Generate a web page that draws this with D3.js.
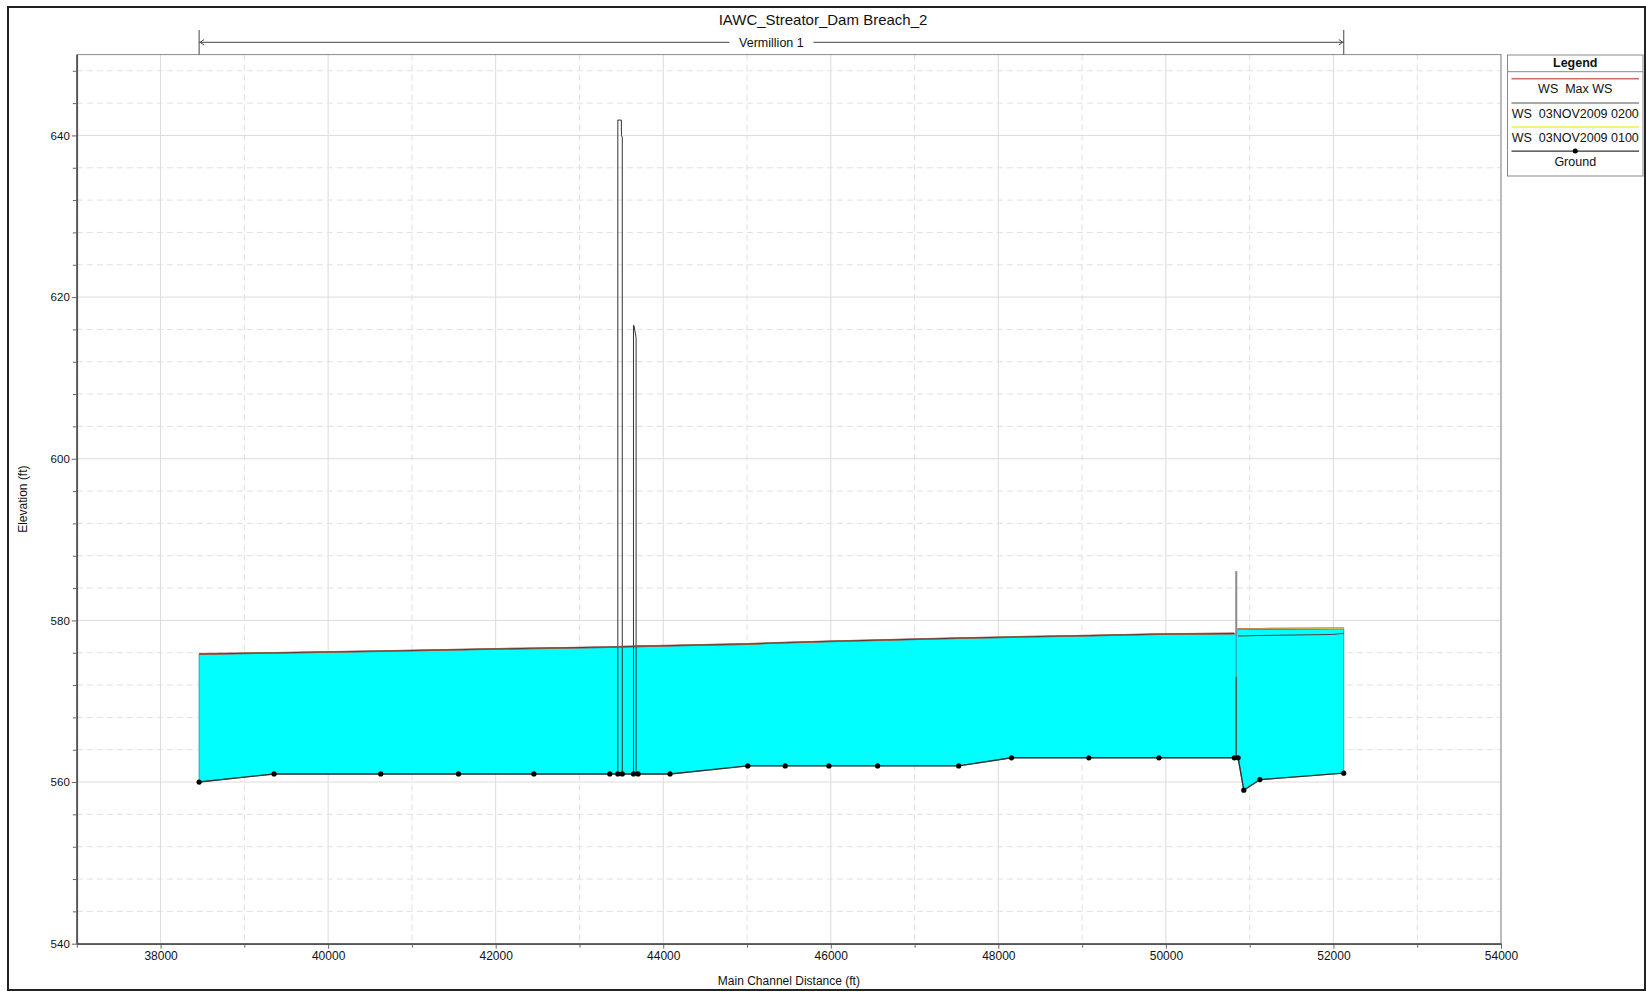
<!DOCTYPE html>
<html><head><meta charset="utf-8">
<script src="https://cdn.jsdelivr.net/npm/d3@7"></script>
<style>
body{margin:0;background:#fff;}
svg{display:block;}
text{font-family:"Liberation Sans",Arial,Helvetica,sans-serif;fill:#111;}
</style>
</head><body>
<svg id="chart" width="1646" height="992"></svg>
<script>
// ---------- data ----------
const chartTitle = "IAWC_Streator_Dam Breach_2";
const reachName = "Vermillion 1";
const xLabel = "Main Channel Distance (ft)";
const yLabel = "Elevation (ft)";
const xDomain = [37000, 54000];
const yDomain = [540, 650];
const xMajorTicks = [38000, 40000, 42000, 44000, 46000, 48000, 50000, 52000, 54000];
const xMinorTicks = [37000, 39000, 41000, 43000, 45000, 47000, 49000, 51000, 53000];
const yMajorTicks = [540, 560, 580, 600, 620, 640];
const yMinorTicks = [544, 548, 552, 556, 564, 568, 572, 576, 584, 588, 592, 596, 604, 608, 612, 616, 624, 628, 632, 636, 644, 648];

const groundStations = [38460, 39355, 40628, 41556, 42456, 43362, 43458, 43511, 43645, 43700, 44081, 45009, 45456, 45978, 46559, 47527, 48157, 49080, 49917, 50817, 50862, 50930, 51122, 52123];
const groundElev     = [560.0, 561.0, 561.0, 561.0, 561.0, 561.0, 561.0, 561.0, 561.0, 561.0, 561.0, 562.0, 562.0, 562.0, 562.0, 562.0, 563.0, 563.0, 563.0, 563.0, 563.0, 559.0, 560.3, 561.1];

const wsStations   = [38460, 39355, 40628, 41556, 42456, 43362, 43458, 43511, 43645, 43700, 44081, 45009, 45456, 45978, 46559, 47527, 48157, 49080, 49917, 50817, 50862, 50930, 51122, 52123];
const wsMax        = [575.84, 575.98, 576.20, 576.38, 576.55, 576.70, 576.72, 576.74, 576.78, 576.80, 576.88, 577.08, 577.25, 577.41, 577.55, 577.80, 577.94, 578.12, 578.30, 578.38, 578.95, 578.95, 578.96, 579.00];
const ws0100       = [575.84, 575.98, 576.20, 576.38, 576.55, 576.70, 576.72, 576.74, 576.78, 576.80, 576.88, 577.08, 577.25, 577.41, 577.55, 577.80, 577.94, 578.12, 578.30, 578.38, 578.95, 578.95, 578.96, 579.00];
const ws0200Stations = [38460, 39355, 40628, 41556, 42456, 43362, 43458, 43511, 43645, 43700, 44081, 45009, 45456, 45978, 46559, 47527, 48157, 49080, 49917, 50817, 50862, 50930, 51122, 51990, 52123];
const ws0200       = [575.84, 575.98, 576.20, 576.38, 576.55, 576.70, 576.72, 576.74, 576.78, 576.80, 576.88, 577.08, 577.25, 577.41, 577.55, 577.80, 577.94, 578.12, 578.30, 578.38, 578.07, 578.08, 578.13, 578.26, 578.40];

// bridges (deck outlines)
const bridge1Stations = [43458, 43458, 43500, 43501, 43511, 43511];
const bridge1Elev     = [561.0, 641.9, 641.9, 640.0, 639.8, 561.0];
const bridge2Stations = [43645, 43645, 43650, 43676, 43676];
const bridge2Elev     = [561.0, 616.5, 616.5, 615.0, 561.0];

// inline structure (dam)
const structureStation = 50840;
const structureUpper = [586.1, 578.2];
const structureLower = [573.0, 563.0];

const legendLabels = ["WS  Max WS", "WS  03NOV2009 0200", "WS  03NOV2009 0100", "Ground"];
const legendColors = ["#cc6a6a", "#8c8c8c", "#f0f040", "#333333"];

// ---------- drawing ----------
const svg = d3.select("#chart");
const L = 76.8, R = 1501, T = 54.6, B = 943.7;
const x = d3.scaleLinear().domain(xDomain).range([L, R]);
const y = d3.scaleLinear().domain(yDomain).range([B, T]);

// outer frame
svg.append("rect").attr("x", 8).attr("y", 7).attr("width", 1637).attr("height", 983)
  .attr("fill", "#fff").attr("stroke", "#222").attr("stroke-width", 2);

// grid
const grid = svg.append("g");
grid.selectAll(".vmaj").data(xMajorTicks).join("line")
  .attr("x1", d => x(d)).attr("x2", d => x(d)).attr("y1", T).attr("y2", B)
  .attr("stroke", "#dcdcdc").attr("stroke-width", 1);
grid.selectAll(".vmin").data(xMinorTicks).join("line")
  .attr("x1", d => x(d)).attr("x2", d => x(d)).attr("y1", T).attr("y2", B)
  .attr("stroke", "#e0e0e0").attr("stroke-width", 1).attr("stroke-dasharray", "6,4");
grid.selectAll(".hmaj").data(yMajorTicks).join("line")
  .attr("x1", L).attr("x2", R).attr("y1", d => y(d)).attr("y2", d => y(d))
  .attr("stroke", "#dcdcdc").attr("stroke-width", 1);
grid.selectAll(".hmin").data(yMinorTicks).join("line")
  .attr("x1", L).attr("x2", R).attr("y1", d => y(d)).attr("y2", d => y(d))
  .attr("stroke", "#e0e0e0").attr("stroke-width", 1).attr("stroke-dasharray", "6,4");

// plot border (top/right)
svg.append("rect").attr("x", L).attr("y", T).attr("width", R - L).attr("height", B - T)
  .attr("fill", "none").attr("stroke", "#8a8a8a").attr("stroke-width", 1);

// data helpers
const ground = groundStations.map((s, i) => [s, groundElev[i]]);
const pts = (st, el) => st.map((s, i) => [s, el[i]]);
const maxPts = pts(wsStations, wsMax);
const p0100 = pts(wsStations, ws0100);
const p0200 = pts(ws0200Stations, ws0200);
const line = d3.line().x(d => x(d[0])).y(d => y(d[1]));

const sections = [
  s => s < structureStation,
  s => s > structureStation
];

// water fill
sections.forEach((inSec, k) => {
  const top = maxPts.filter(d => inSec(d[0]));
  const bot = ground.filter(d => inSec(d[0])).slice().reverse();
  let poly;
  if (k === 0) {
    poly = top.concat([[structureStation, top[top.length - 1][1]], [structureStation, bot[0][1]]]).concat(bot);
  } else {
    poly = [[structureStation, top[0][1]]].concat(top).concat(bot).concat([[structureStation, bot[bot.length - 1][1]]]);
  }
  svg.append("path").attr("d", line(poly) + "Z")
    .attr("fill", "#00ffff").attr("stroke", "#2aa8a8").attr("stroke-width", 1);
});

// bridges
[[bridge1Stations, bridge1Elev], [bridge2Stations, bridge2Elev]].forEach(([st, el]) => {
  svg.append("path").attr("d", line(pts(st, el)))
    .attr("fill", "none").attr("stroke", "#333").attr("stroke-width", 1);
});

// inline structure
svg.append("line").attr("x1", x(structureStation)).attr("x2", x(structureStation))
  .attr("y1", y(structureUpper[0])).attr("y2", y(structureUpper[1]))
  .attr("stroke", "#8a8a8a").attr("stroke-width", 2);
svg.append("line").attr("x1", x(structureStation)).attr("x2", x(structureStation))
  .attr("y1", y(structureLower[0])).attr("y2", y(structureLower[1]))
  .attr("stroke", "#4a5a5a").attr("stroke-width", 1.5);

// water surface lines (drawn per section)
function drawWs(points, color, width) {
  sections.forEach(inSec => {
    svg.append("path").attr("d", line(points.filter(d => inSec(d[0]))))
      .attr("fill", "none").attr("stroke", color).attr("stroke-width", width);
  });
}
drawWs(maxPts, "#a83030", 1.8);
drawWs(p0100, "#e0e060", 0.8);
drawWs(p0200, "#5a3a3a", 1);

// ground
svg.append("path").attr("d", line(ground)).attr("fill", "none")
  .attr("stroke", "#333").attr("stroke-width", 1.4);
svg.selectAll(".gdot").data(ground).join("circle")
  .attr("cx", d => x(d[0])).attr("cy", d => y(d[1])).attr("r", 2.6).attr("fill", "#000");

// axes
const ax = svg.append("g");
const xAxis = ax.append("g").attr("transform", `translate(0,${B})`)
  .call(d3.axisBottom(x).tickValues(xMajorTicks).tickFormat(d3.format("d")).tickSize(5).tickPadding(3).tickSizeOuter(0));
ax.append("g").attr("transform", `translate(0,${B})`)
  .call(d3.axisBottom(x).tickValues(xMinorTicks).tickFormat("").tickSize(4).tickSizeOuter(0));
const yAxis = ax.append("g").attr("transform", `translate(${L},0)`)
  .call(d3.axisLeft(y).tickValues(yMajorTicks).tickSize(5).tickPadding(2).tickSizeOuter(0));
ax.append("g").attr("transform", `translate(${L},0)`)
  .call(d3.axisLeft(y).tickValues(yMinorTicks).tickFormat("").tickSize(4).tickSizeOuter(0));
ax.selectAll(".domain").attr("stroke", "#555").attr("stroke-width", 1.5);
ax.selectAll(".tick line").attr("stroke", "#666");
ax.selectAll(".tick text").attr("font-family", "Liberation Sans, Arial, sans-serif").attr("fill", "#111");
xAxis.selectAll(".tick text").attr("font-size", "12px");
yAxis.selectAll(".tick text").attr("font-size", "11.5px");

// axis titles
svg.append("text").attr("x", (L + R) / 2).attr("y", 985).attr("text-anchor", "middle")
  .attr("font-size", "12px").text(xLabel);
svg.append("text").attr("transform", `translate(27,${(T + B) / 2}) rotate(-90)`)
  .attr("text-anchor", "middle").attr("font-size", "12px").text(yLabel);

// title
svg.append("text").attr("x", 823).attr("y", 25).attr("text-anchor", "middle")
  .attr("font-size", "15px").text(chartTitle);

// reach bar
const rx0 = x(groundStations[0]), rx1 = x(groundStations[groundStations.length - 1]);
const reach = svg.append("g").attr("stroke", "#444").attr("fill", "none").attr("stroke-width", 1);
reach.append("line").attr("x1", rx0).attr("x2", rx1).attr("y1", 42.3).attr("y2", 42.3);
reach.append("line").attr("x1", rx0).attr("x2", rx0).attr("y1", 30).attr("y2", T);
reach.append("line").attr("x1", rx1).attr("x2", rx1).attr("y1", 30).attr("y2", T);
reach.append("path").attr("d", `M${rx0 + 5},39.5L${rx0 + 1},42.3L${rx0 + 5},45`);
reach.append("path").attr("d", `M${rx1 - 5},39.5L${rx1 - 1},42.3L${rx1 - 5},45`);
const rmid = (rx0 + rx1) / 2;
svg.append("rect").attr("x", rmid - 42).attr("y", 34).attr("width", 84).attr("height", 16).attr("fill", "#fff");
svg.append("text").attr("x", rmid).attr("y", 46.5).attr("text-anchor", "middle")
  .attr("font-size", "12.5px").text(reachName);

// legend
const lg = svg.append("g");
const lx0 = 1507.5, lx1 = 1643, lcx = (lx0 + lx1) / 2;
lg.append("rect").attr("x", lx0).attr("y", 55).attr("width", lx1 - lx0).attr("height", 121)
  .attr("fill", "#fff").attr("stroke", "#888").attr("stroke-width", 1);
lg.append("text").attr("x", lcx).attr("y", 66.5).attr("text-anchor", "middle")
  .attr("font-size", "12.5px").attr("font-weight", "bold").text("Legend");
lg.append("line").attr("x1", lx0).attr("x2", lx1).attr("y1", 71.7).attr("y2", 71.7)
  .attr("stroke", "#888");
legendLabels.forEach((lab, i) => {
  const ly = 78.8 + i * 24.1;
  lg.append("line").attr("x1", lx0 + 4).attr("x2", lx1 - 4).attr("y1", ly).attr("y2", ly)
    .attr("stroke", legendColors[i]).attr("stroke-width", i === 3 ? 1.2 : 1.5);
  if (i === 3) lg.append("circle").attr("cx", lcx).attr("cy", ly).attr("r", 2.5).attr("fill", "#000");
  lg.append("text").attr("x", lcx).attr("y", ly + 14.6).attr("text-anchor", "middle")
    .attr("font-size", "12.5px").text(lab).style("white-space", "pre");
});
</script>
</body></html>
